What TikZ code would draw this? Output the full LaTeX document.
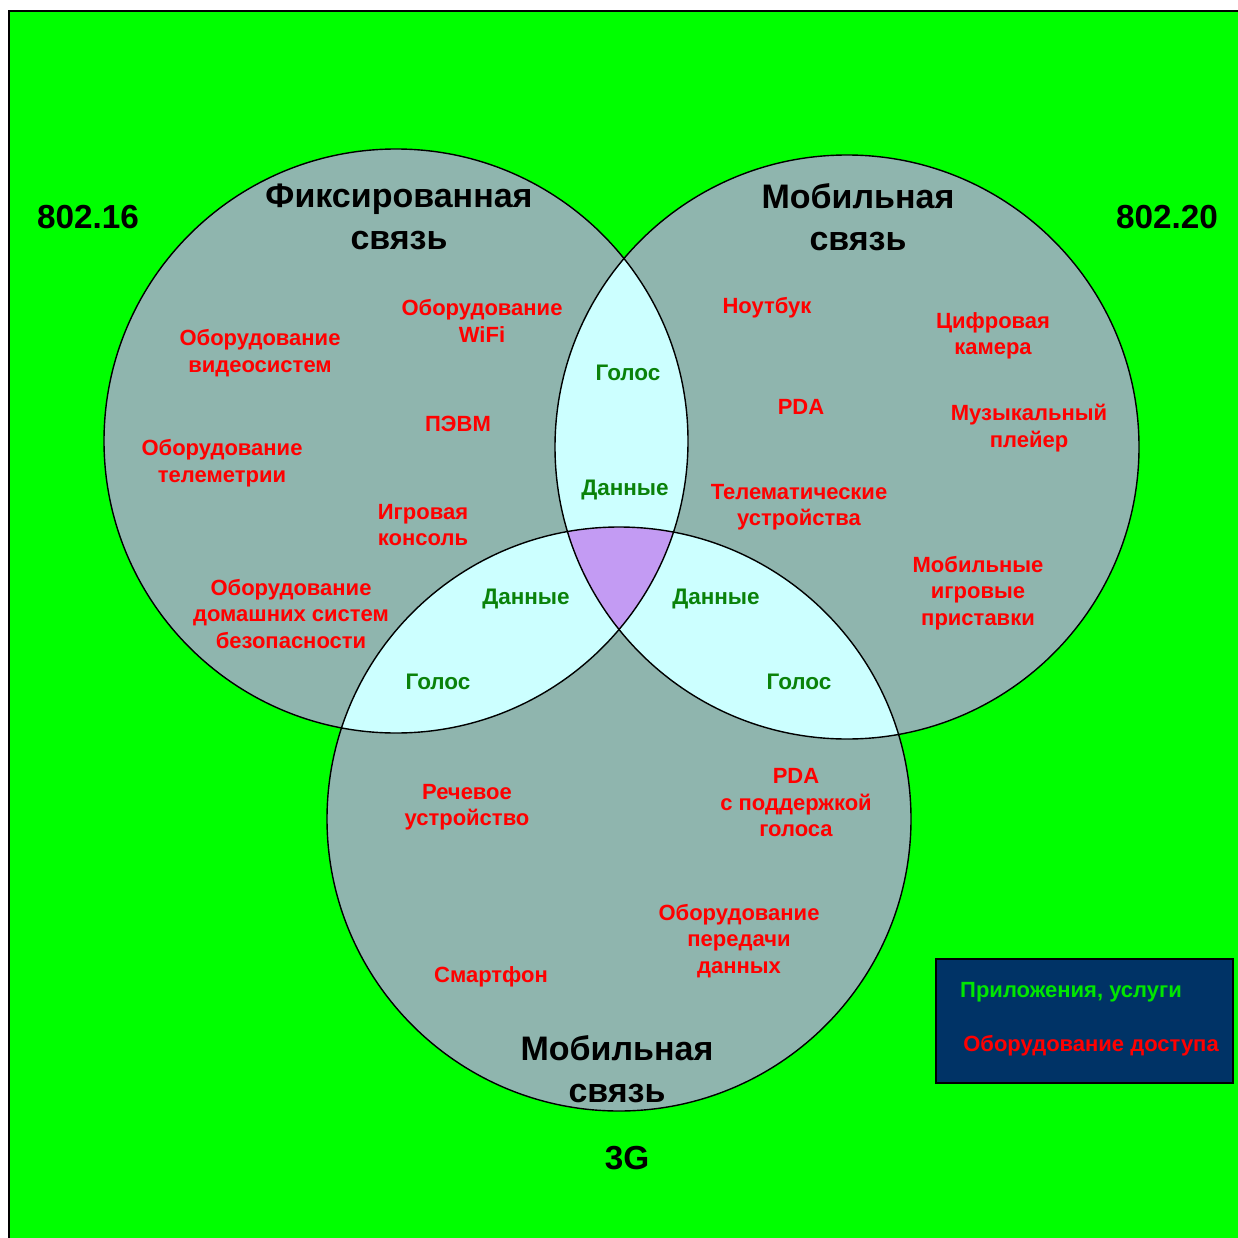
\documentclass[tikz,border=0pt]{standalone}
\usepackage{fontspec}
\setmainfont{Liberation Sans}
\definecolor{bggreen}{RGB}{0,255,0}
\definecolor{circfill}{RGB}{143,181,174}
\definecolor{lensfill}{RGB}{204,255,255}
\definecolor{corefill}{RGB}{195,155,243}
\definecolor{navy}{RGB}{0,51,102}
\definecolor{lblgreen}{RGB}{10,130,10}
\definecolor{legendgreen}{RGB}{0,230,0}
\begin{document}
\begin{tikzpicture}[x=1pt,y=-1pt,
  device/.style={text=red,font=\bfseries\fontsize{22}{26.5}\selectfont,align=center,inner sep=0pt,yshift=-2pt},
  service/.style={text=lblgreen,font=\bfseries\fontsize{22.5}{26}\selectfont,align=center,inner sep=0pt,yshift=-1pt},
  ctitle/.style={text=black,font=\bfseries\fontsize{34}{42}\selectfont,align=center,inner sep=0pt},
  stdlabel/.style={text=black,font=\bfseries\fontsize{33.3}{40}\selectfont,inner sep=0pt},
  legendtext/.style={font=\bfseries\fontsize{22}{26}\selectfont,inner sep=0pt,yshift=-2pt},
  ring/.style={draw=black,line width=1.4pt}]
\useasboundingbox (0,0) rectangle (1237,1238);
\fill[white] (0,0) rectangle (1237,1238);
\filldraw[fill=bggreen,draw=black,line width=1.4pt] (9,11) rectangle (1245,1245);

% circle centres
\coordinate (cl) at (396,441);
\coordinate (cr) at (847,447);
\coordinate (cb) at (619,819);
\def\rad{292}

% base discs
\fill[circfill] (cl) circle (\rad);
\fill[circfill] (cr) circle (\rad);
\fill[circfill] (cb) circle (\rad);

% pairwise overlaps
\begin{scope}
  \clip (cl) circle (\rad);
  \fill[lensfill] (cr) circle (\rad);
  \fill[lensfill] (cb) circle (\rad);
\end{scope}
\begin{scope}
  \clip (cr) circle (\rad);
  \fill[lensfill] (cb) circle (\rad);
\end{scope}
% triple overlap
\begin{scope}
  \clip (cl) circle (\rad);
  \clip (cr) circle (\rad);
  \fill[corefill] (cb) circle (\rad);
\end{scope}

% outlines
\draw[ring] (cl) circle (\rad);
\draw[ring] (cr) circle (\rad);
\draw[ring] (cb) circle (\rad);

% standards
\node[stdlabel] (s1) at (88,217) {802.16};
\node[stdlabel] (s2) at (1167,217) {802.20};
\node[stdlabel] (s3) at (627,1158) {3G};

% circle titles
\node[ctitle] (tl) at (399,217) {Фиксированная\\связь};
\node[ctitle] (tr) at (858,217) {Мобильная\\связь};
\node[ctitle] (tb) at (617,1069) {Мобильная\\связь};

% fixed access devices
\node[device] (d1) at (260,351) {Оборудование\\видеосистем};
\node[device] (d2) at (482,319) {Оборудование\\WiFi};
\node[device] (d3) at (458,422) {ПЭВМ};
\node[device] (d4) at (222,461) {Оборудование\\телеметрии};
\node[device] (d5) at (423,523) {Игровая\\консоль};
\node[device] (d6) at (291,612) {Оборудование\\домашних систем\\безопасности};

% mobile (802.20) devices
\node[device] (d7) at (767,306) {Ноутбук};
\node[device] (d8) at (993,334) {Цифровая\\камера};
\node[device] (d9) at (801,405) {PDA};
\node[device] (d10) at (1029,426) {Музыкальный\\плейер};
\node[device] (d11) at (799,505) {Телематические\\устройства};
\node[device] (d12) at (978,591) {Мобильные\\игровые\\приставки};

% 3G devices
\node[device] (d13) at (467,805) {Речевое\\устройство};
\node[device] (d14) at (796,801) {PDA\\с поддержкой\\голоса};
\node[device] (d15) at (739,939) {Оборудование\\передачи\\данных};
\node[device] (d16) at (491,975) {Смартфон};

% services in overlaps
\node[service] (v1) at (628,372) {Голос};
\node[service] (v2) at (625,489) {Данные};
\node[service] (v3) at (526,598) {Данные};
\node[service] (v4) at (438,681) {Голос};
\node[service] (v5) at (716,598) {Данные};
\node[service] (v6) at (799,681) {Голос};

% legend
\filldraw[fill=navy,draw=black,line width=1.2pt] (936,959) rectangle (1233,1083);
\node[legendtext,text=legendgreen] (lg1) at (1071,990) {Приложения, услуги};
\node[legendtext,text=red] (lg2) at (1091,1044) {Оборудование доступа};
\end{tikzpicture}
\end{document}
